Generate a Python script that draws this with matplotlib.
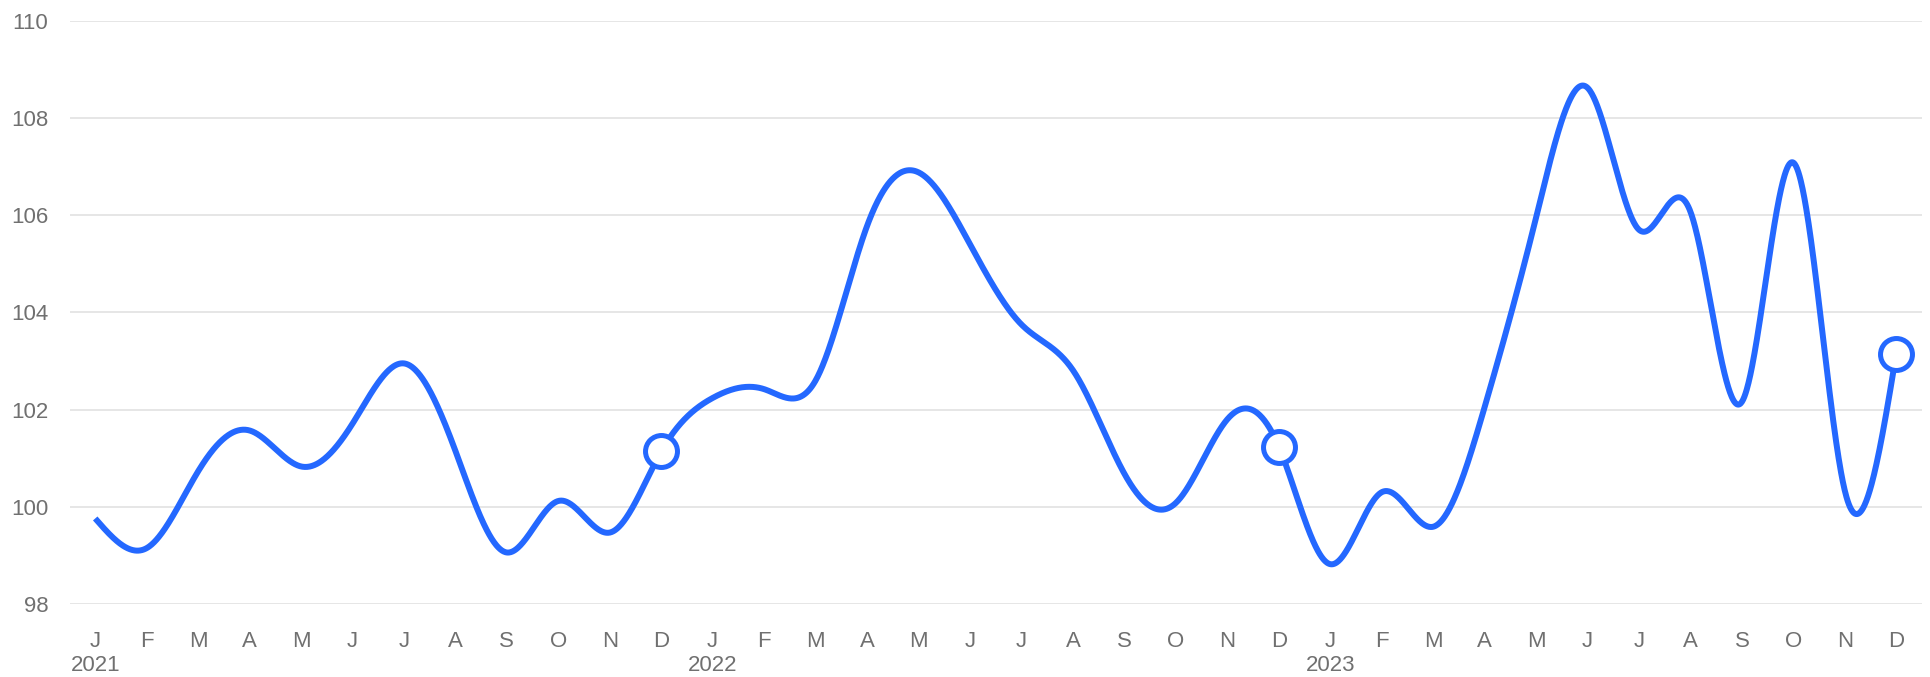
import numpy as np
import matplotlib
matplotlib.use("Agg")
import matplotlib.pyplot as plt

# ---- data ----
month_letters = ["J", "F", "M", "A", "M", "J", "J", "A", "S", "O", "N", "D"]
years = ["2021", "2022", "2023"]
values_2021 = [99.76, 99.15, 100.73, 101.57, 100.83, 101.71, 102.95, 101.15, 99.06, 100.12, 99.47, 101.14]
values_2022 = [102.24, 102.42, 102.60, 105.78, 106.88, 105.40, 103.75, 102.81, 100.68, 100.08, 101.80, 101.24]
values_2023 = [98.82, 100.30, 99.59, 102.05, 105.95, 108.62, 105.70, 106.07, 102.16, 107.08, 100.33, 103.15]
marker_month = "D"  # markers on each December
y_ticks = [98, 100, 102, 104, 106, 108, 110]

values = np.array(values_2021 + values_2022 + values_2023)
x = np.arange(len(values), dtype=float)

labels = []
for y in years:
    for k, m in enumerate(month_letters):
        labels.append(f"{m}\n{y}" if k == 0 else m)
marker_idx = [i for i, lab in enumerate(labels) if lab == marker_month]


def natural_spline(xk, yk, xs):
    n = len(xk)
    h = np.diff(xk)
    A = np.zeros((n, n))
    r = np.zeros(n)
    A[0, 0] = 1.0
    A[-1, -1] = 1.0
    for i in range(1, n - 1):
        A[i, i - 1] = h[i - 1]
        A[i, i] = 2 * (h[i - 1] + h[i])
        A[i, i + 1] = h[i]
        r[i] = 6 * ((yk[i + 1] - yk[i]) / h[i] - (yk[i] - yk[i - 1]) / h[i - 1])
    M = np.linalg.solve(A, r)
    idx = np.clip(np.searchsorted(xk, xs) - 1, 0, n - 2)
    x0, x1 = xk[idx], xk[idx + 1]
    hi = x1 - x0
    a = (x1 - xs) / hi
    b = (xs - x0) / hi
    return a * yk[idx] + b * yk[idx + 1] + ((a**3 - a) * M[idx] + (b**3 - b) * M[idx + 1]) * hi**2 / 6


xs = np.linspace(x[0], x[-1], 3000)
ys = natural_spline(x, values, xs)

plt.rcParams["font.family"] = ["Liberation Sans", "DejaVu Sans"]
BLUE = "#2468FF"
GRAY = "#707070"

fig = plt.figure(figsize=(19.31, 6.77), dpi=100)
ax = fig.add_axes([0.03625, 0.1078, 0.9591, 0.8616])

ax.plot(xs, ys, color=BLUE, lw=4.3, solid_capstyle="butt", zorder=3)
ax.plot(x[marker_idx], values[marker_idx], "o", ms=23, mfc="white", mec=BLUE, mew=3.6, zorder=4)

ax.set_xlim(-0.49, 35.5)
ax.set_ylim(98, 110)
ax.set_yticks(y_ticks)
ax.set_yticklabels([str(t) for t in y_ticks])
ax.set_xticks(x)
ax.set_xticklabels(labels)
for lbl in ax.get_xticklabels():
    lbl.set_linespacing(1.2)

ax.tick_params(axis="both", length=0, labelsize=16, labelcolor=GRAY)
ax.tick_params(axis="x", pad=19.5)
ax.tick_params(axis="y", pad=15.5)
ax.yaxis.grid(True, color="#e6e6e6", lw=1.4)
ax.xaxis.grid(False)
ax.set_axisbelow(True)
for s in ax.spines.values():
    s.set_visible(False)

fig.savefig("out.png", dpi=100, facecolor="white")
